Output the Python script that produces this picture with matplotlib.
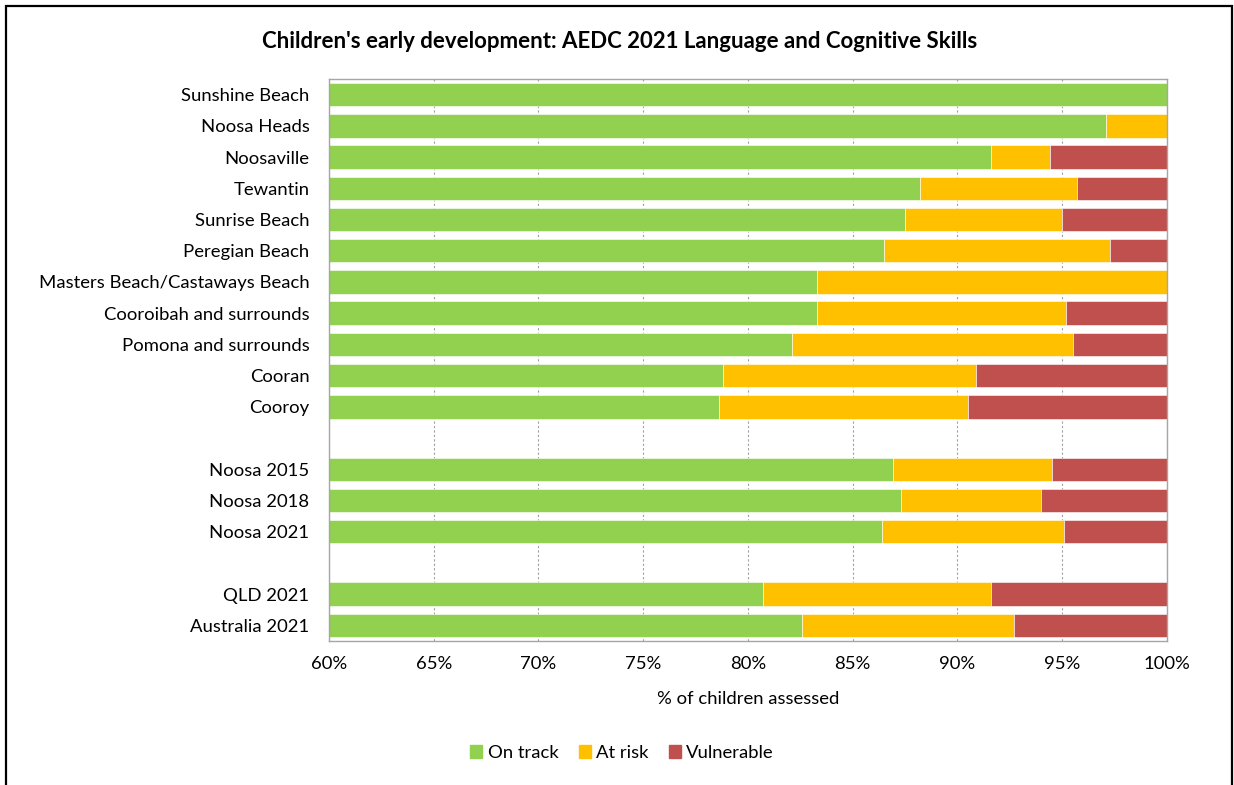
import matplotlib
matplotlib.use("Agg")
import matplotlib.pyplot as plt
import matplotlib.patches as mpatches
import numpy as np

plt.rcParams['font.family'] = ['Lato', 'DejaVu Sans']

categories = ["Sunshine Beach", "Noosa Heads", "Noosaville", "Tewantin", "Sunrise Beach",
              "Peregian Beach", "Masters Beach/Castaways Beach", "Cooroibah and surrounds",
              "Pomona and surrounds", "Cooran", "Cooroy", "",
              "Noosa 2015", "Noosa 2018", "Noosa 2021", "",
              "QLD 2021", "Australia 2021"]
on_track = [100.0, 97.1, 91.6, 88.2, 87.5, 86.5, 83.3, 83.3, 82.1, 78.8, 78.6, 0,
            86.9, 87.3, 86.4, 0, 80.7, 82.6]
at_risk = [0.0, 2.9, 2.8, 7.5, 7.5, 10.8, 16.7, 11.9, 13.4, 12.1, 11.9, 0,
           7.6, 6.7, 8.7, 0, 10.9, 10.1]
vulnerable = [0.0, 0.0, 5.6, 4.3, 5.0, 2.7, 0.0, 4.8, 4.5, 9.1, 9.5, 0,
              5.5, 6.0, 4.9, 0, 8.4, 7.3]
series_names = ["On track", "At risk", "Vulnerable"]
colors = ["#92D050", "#FFC000", "#C0504D"]

fig = plt.figure(figsize=(12.34, 7.85), dpi=100)
ax = fig.add_axes([329/1234, 1-641/785, (1167-329)/1234, (641-79)/785])

y = np.arange(len(categories))
ot = np.array(on_track) / 100
ar = np.array(at_risk) / 100
vu = np.array(vulnerable) / 100
h = 0.75
ax.barh(y, ot, height=h, color=colors[0], edgecolor='white', linewidth=0.4, label=series_names[0], zorder=2)
ax.barh(y, ar, left=ot, height=h, color=colors[1], edgecolor='white', linewidth=0.4, label=series_names[1], zorder=2)
ax.barh(y, vu, left=ot+ar, height=h, color=colors[2], edgecolor='white', linewidth=0.4, label=series_names[2], zorder=2)

ax.set_xlim(0.60, 1.00)
ax.set_ylim(len(categories)-0.5, -0.5)
ax.set_xticks(np.arange(0.60, 1.001, 0.05))
ax.set_xticklabels([f"{int(round(v*100))}%" for v in np.arange(0.60, 1.001, 0.05)])
ax.set_yticks(y)
ax.set_yticklabels(categories)
ax.tick_params(axis='both', length=0, labelsize=13.3, colors='black')
ax.tick_params(axis='y', pad=14)
ax.tick_params(axis='x', pad=11)
ax.grid(axis='x', color='#A0A0A0', linestyle=(0, (2, 2)), linewidth=0.8, zorder=0)
for s in ax.spines.values():
    s.set_color('#A6A6A6')
    s.set_linewidth(1.0)
ax.set_xlabel("% of children assessed", fontsize=13.3)
ax.xaxis.label.set_va('center')
ax.xaxis.set_label_coords(0.5, -(699-641)/(641-79))

fig.text(620/1234, 1-42/785, "Children's early development: AEDC 2021 Language and Cognitive Skills",
         ha='center', va='center', fontsize=16, fontweight='bold')

handles = [mpatches.Patch(color=c, label=n) for c, n in zip(colors, series_names)]
fig.legend(handles=handles, loc='center', bbox_to_anchor=(622/1234, 1-753/785), ncol=3,
           frameon=False, fontsize=13.3, handlelength=0.65, handleheight=0.65,
           handletextpad=0.28, columnspacing=1.1)

frame = mpatches.Rectangle((6/1234, -0.05), (1232-6)/1234, 1-6/785+0.05, transform=fig.transFigure,
                           fill=False, edgecolor='black', linewidth=1.6, clip_on=False)
fig.patches.append(frame)

fig.savefig("out.png", dpi=100)
